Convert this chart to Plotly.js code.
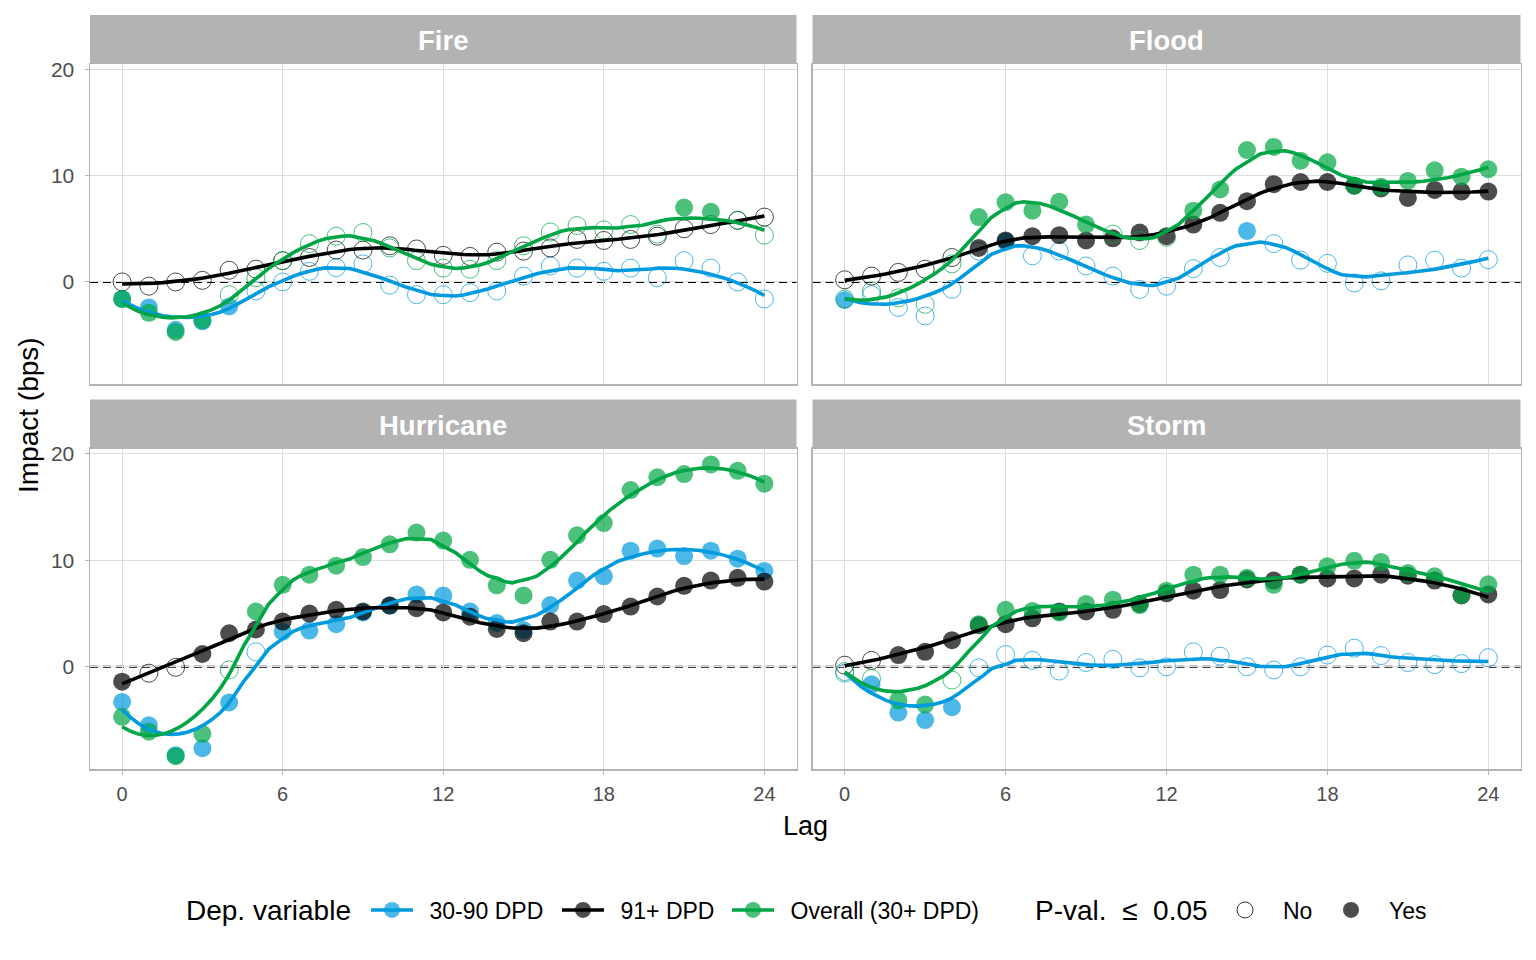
<!DOCTYPE html>
<html>
<head>
<meta charset="utf-8">
<script src="https://cdn.plot.ly/plotly-3.0.1.min.js"></script>
<style>html,body{margin:0;padding:0;background:#fff;}#chart{width:1536px;height:960px;}</style>
</head>
<body>
<div id="chart"></div>
<script>
// ---------------- DATA ----------------
const LAGS = [0,1,2,3,4,5,6,7,8,9,10,11,12,13,14,15,16,17,18,19,20,21,22,23,24];
const X_TICKS = [0, 6, 12, 18, 24];
const Y_TICKS = [0, 10, 20];
const PANEL_NAMES = ['Fire', 'Flood', 'Hurricane', 'Storm'];
const SERIES_NAMES = ['30-90 DPD', '91+ DPD', 'Overall (30+ DPD)'];
const SIG_NAMES = ['No', 'Yes'];

// Fire
const fire_3090 = [-1.6,-2.4,-4.5,-3.7,-2.3,-0.85,0.0,1.0,1.35,1.7,-0.3,-1.2,-1.2,-1.0,-0.85,0.55,1.5,1.3,1.0,1.3,0.4,2.0,1.3,0.0,-1.6];
const fire_3090_sig = [1,1,1,1,1,0,0,0,0,0,0,0,0,0,0,0,0,0,0,0,0,0,0,0,0];
const fire_91 = [0.0,-0.4,0.0,0.15,1.1,1.2,2.0,2.3,3.0,3.0,3.4,3.1,2.5,2.4,2.8,2.9,3.2,4.0,3.9,4.0,4.3,5.0,5.4,5.8,6.1];
const fire_91_sig = [0,0,0,0,0,0,0,0,0,0,0,0,0,0,0,0,0,0,0,0,0,0,0,0,0];
const fire_all = [-1.6,-2.9,-4.7,-3.6,-1.2,0.4,2.0,3.6,4.3,4.65,3.2,2.0,1.3,1.2,2.0,3.4,4.7,5.3,4.9,5.4,4.5,7.0,6.6,5.8,4.4];
const fire_all_sig = [1,1,1,1,0,0,0,0,0,0,0,0,0,0,0,0,0,0,0,0,0,1,1,0,0];

// Flood
const flood_3090 = [-1.7,-1.2,-2.4,-3.2,-0.7,2.9,3.8,2.45,2.9,1.5,0.55,-0.7,-0.4,1.25,2.3,4.8,3.6,2.05,1.75,-0.1,0.1,1.6,2.05,1.3,2.1];
const flood_3090_sig = [1,0,0,0,0,0,1,0,0,0,0,0,0,0,0,1,0,0,0,0,0,0,0,0,0];
const flood_91 = [0.2,0.55,0.9,1.2,2.3,3.2,3.9,4.3,4.4,3.9,4.1,4.65,4.3,5.4,6.5,7.6,9.2,9.4,9.4,9.05,8.8,7.9,8.65,8.5,8.5];
const flood_91_sig = [0,0,0,0,0,1,1,1,1,1,1,1,1,1,1,1,1,1,1,1,1,1,1,1,1];
const flood_all = [-1.6,-0.85,-1.5,-2.1,1.7,6.1,7.5,6.7,7.55,5.4,4.5,3.9,4.2,6.7,8.7,12.4,12.7,11.4,11.25,9.05,8.95,9.5,10.5,9.9,10.6];
const flood_all_sig = [0,0,0,0,0,1,1,1,1,1,0,0,0,1,1,1,1,1,1,1,1,1,1,1,1];

// Hurricane
const hurricane_3090 = [-3.3,-5.5,-8.3,-7.65,-3.35,1.4,3.3,3.4,4.0,5.1,5.75,6.8,6.7,5.2,4.1,3.45,5.8,8.1,8.5,10.9,11.1,10.4,10.9,10.15,9.0];
const hurricane_3090_sig = [1,1,1,1,1,0,1,1,1,1,1,1,1,1,1,1,1,1,1,1,1,1,1,1,1];
const hurricane_91 = [-1.4,-0.6,-0.05,1.2,3.15,3.5,4.25,5.0,5.35,5.2,5.75,5.5,5.1,4.7,3.55,3.15,4.25,4.25,4.95,5.65,6.6,7.6,8.1,8.35,8.0];
const hurricane_91_sig = [1,0,0,1,1,1,1,1,1,1,1,1,1,1,1,1,1,1,1,1,1,1,1,1,1];
const hurricane_all = [-4.7,-6.1,-8.4,-6.3,-0.3,5.2,7.7,8.65,9.5,10.3,11.5,12.6,11.85,10.05,7.65,6.7,10.05,12.35,13.5,16.6,17.8,18.1,19.0,18.4,17.2];
const hurricane_all_sig = [1,1,1,1,0,1,1,1,1,1,1,1,1,1,1,1,1,1,1,1,1,1,1,1,1];

// Storm
const storm_3090 = [-0.6,-1.65,-4.3,-5.0,-3.8,-0.1,1.15,0.6,-0.4,0.4,0.7,-0.1,0.0,1.4,1.0,0.0,-0.3,0.0,1.1,1.75,1.05,0.4,0.2,0.3,0.85];
const storm_3090_sig = [0,1,1,1,1,0,0,0,0,0,0,0,0,0,0,0,0,0,0,0,0,0,0,0,0];
const storm_91 = [0.15,0.6,1.1,1.4,2.5,3.9,4.0,4.55,5.2,5.2,5.35,5.9,6.9,7.15,7.2,8.2,8.1,8.65,8.3,8.3,8.65,8.55,8.1,6.7,6.8];
const storm_91_sig = [0,0,1,1,1,1,1,1,1,1,1,1,1,1,1,1,1,1,1,1,1,1,1,1,1];
const storm_all = [-0.45,-1.1,-3.15,-3.55,-1.25,4.0,5.35,5.25,5.1,5.9,6.3,5.8,7.15,8.65,8.65,8.35,7.7,8.65,9.45,9.95,9.85,8.8,8.5,6.75,7.75];
const storm_all_sig = [0,0,1,1,0,1,1,1,1,1,1,1,1,1,1,1,1,1,1,1,1,1,1,1,1];

// ---------------- BUILD ----------------
const PANEL_DATA = [
  [[fire_3090, fire_3090_sig], [fire_91, fire_91_sig], [fire_all, fire_all_sig]],
  [[flood_3090, flood_3090_sig], [flood_91, flood_91_sig], [flood_all, flood_all_sig]],
  [[hurricane_3090, hurricane_3090_sig], [hurricane_91, hurricane_91_sig], [hurricane_all, hurricane_all_sig]],
  [[storm_3090, storm_3090_sig], [storm_91, storm_91_sig], [storm_all, storm_all_sig]]
];
const LINE_COLORS = ['#009ADE', '#000000', '#00A645'];
const PT_COLORS = ['rgba(0,154,222,0.7)', 'rgba(0,0,0,0.7)', 'rgba(0,166,69,0.7)'];
const SPAN = 0.4;
const FONT = 'Liberation Sans, Arial, sans-serif';

function solve3(A, b) {
  const M = A.map((r, i) => r.concat([b[i]]));
  for (let c = 0; c < 3; c++) {
    let p = c;
    for (let r = c + 1; r < 3; r++) if (Math.abs(M[r][c]) > Math.abs(M[p][c])) p = r;
    [M[c], M[p]] = [M[p], M[c]];
    for (let r = 0; r < 3; r++) {
      if (r === c) continue;
      const f = M[r][c] / M[c][c];
      for (let k = c; k < 4; k++) M[r][k] -= f * M[c][k];
    }
  }
  return [M[0][3] / M[0][0], M[1][3] / M[1][1], M[2][3] / M[2][2]];
}
function loess(xs, ys, span, x0) {
  const n = xs.length;
  const q = Math.floor(n * span + 1e-5);
  const d = xs.map(x => Math.abs(x - x0));
  const s = d.slice().sort((a, b) => a - b);
  const h = s[Math.min(q, n) - 1] * 1.0001;
  let S = [[0,0,0],[0,0,0],[0,0,0]], B = [0,0,0];
  for (let i = 0; i < n; i++) {
    const u = d[i] / h;
    if (u >= 1) continue;
    const w = Math.pow(1 - u * u * u, 3);
    const t = xs[i] - x0;
    const v = [1, t, t * t];
    for (let a = 0; a < 3; a++) {
      B[a] += w * v[a] * ys[i];
      for (let c = 0; c < 3; c++) S[a][c] += w * v[a] * v[c];
    }
  }
  return solve3(S, B)[0];
}

const traces = [];
const axSuffix = ['', '2', '3', '4'];
PANEL_DATA.forEach((series, p) => {
  const xa = 'x' + axSuffix[p], ya = 'y' + axSuffix[p];
  series.forEach(([vals, sig], s) => {
    const fx = [], fy = [], ox = [], oy = [];
    LAGS.forEach((l, i) => { if (sig[i]) { fx.push(l); fy.push(vals[i]); } else { ox.push(l); oy.push(vals[i]); } });
    traces.push({x: ox, y: oy, xaxis: xa, yaxis: ya, type: 'scatter', mode: 'markers', showlegend: false, hoverinfo: 'skip',
      marker: {symbol: 'circle-open', size: 18, color: PT_COLORS[s], line: {width: 1, color: PT_COLORS[s]}}});
    traces.push({x: fx, y: fy, xaxis: xa, yaxis: ya, type: 'scatter', mode: 'markers', showlegend: false, hoverinfo: 'skip',
      marker: {symbol: 'circle', size: 18, color: PT_COLORS[s], line: {width: 0}}});
  });
  series.forEach(([vals], s) => {
    const gx = [], gy = [];
    const N = 80, lo = LAGS[0], hi = LAGS[LAGS.length - 1];
    for (let k = 0; k < N; k++) { const x = lo + (hi - lo) * k / (N - 1); gx.push(x); gy.push(loess(LAGS, vals, SPAN, x)); }
    traces.push({x: gx, y: gy, xaxis: xa, yaxis: ya, type: 'scatter', mode: 'lines', showlegend: false, hoverinfo: 'skip',
      line: {color: LINE_COLORS[s], width: 3.6}});
  });
});

const W = 1536, H = 960;
// legend entries (one legend box per entry, positioned like the reference)
const LEG_IDS = ['legend', 'legend3', 'legend4'];
const LEG_X = [366, 557, 727];
SERIES_NAMES.forEach((nm, s) => {
  traces.push({x: [null], y: [null], type: 'scatter', mode: 'lines+markers', name: '\u2002' + nm, legend: LEG_IDS[s],
    line: {color: LINE_COLORS[s], width: 3.6}, marker: {size: 16, color: PT_COLORS[s], symbol: 'circle'}});
});
const SIG_IDS = ['legend2', 'legend5'];
const SIG_X = [1207, 1313];
SIG_NAMES.forEach((nm, k) => {
  traces.push({x: [null], y: [null], type: 'scatter', mode: 'markers', name: nm, legend: SIG_IDS[k],
    marker: k === 0 ? {size: 16, symbol: 'circle-open', color: '#333', line: {width: 1, color: '#333'}}
                    : {size: 16, symbol: 'circle', color: 'rgba(0,0,0,0.7)'}});
});

const colDom = [[90 / W, 796.5 / W], [812.5 / W, 1520.5 / W]];
const rowDom = [[1 - 384 / H, 1 - 64 / H], [1 - 769 / H, 1 - 448.5 / H]];
const stripDom = [[1 - 64 / H, 1 - 15 / H], [1 - 448.5 / H, 1 - 399.5 / H]];
const LEG_Y = 1 - 910 / H;

const layout = {
  width: W, height: H, margin: {l: 0, r: 0, t: 0, b: 0},
  paper_bgcolor: '#fff', plot_bgcolor: '#fff',
  font: {family: FONT, size: 20, color: '#4D4D4D'},
  shapes: [], annotations: []
};
LEG_IDS.forEach((id, s) => {
  layout[id] = {orientation: 'h', x: LEG_X[s] / W, xanchor: 'left', y: LEG_Y, yanchor: 'middle',
    font: {size: 23, color: '#000'}, itemwidth: 42, bgcolor: 'rgba(0,0,0,0)', borderwidth: 0};
});
SIG_IDS.forEach((id, k) => {
  layout[id] = {orientation: 'h', x: SIG_X[k] / W, xanchor: 'left', y: LEG_Y, yanchor: 'middle',
    font: {size: 23, color: '#000'}, itemwidth: 66, bgcolor: 'rgba(0,0,0,0)', borderwidth: 0};
});
for (let p = 0; p < 4; p++) {
  const col = p % 2, row = Math.floor(p / 2);
  const sfx = axSuffix[p];
  layout['xaxis' + sfx] = {domain: colDom[col], anchor: 'y' + sfx, range: [-1.2, 25.2], tickvals: X_TICKS,
    ticktext: X_TICKS.map(String), showticklabels: row === 1, ticks: row === 1 ? 'outside' : '', ticklen: 4,
    tickcolor: '#B3B3B3', tickfont: {size: 20, color: '#4D4D4D'}, ticklabelstandoff: 2,
    showgrid: true, gridcolor: '#DEDEDE', gridwidth: 1, zeroline: false,
    showline: true, mirror: true, linecolor: '#B3B3B3', linewidth: 1.5};
  layout['yaxis' + sfx] = {domain: rowDom[row], anchor: 'x' + sfx, range: [-9.6, 20.5], tickvals: Y_TICKS,
    ticktext: Y_TICKS.map(String), showticklabels: col === 0, ticks: col === 0 ? 'outside' : '', ticklen: 4,
    tickcolor: '#B3B3B3', tickfont: {size: 21, color: '#4D4D4D'}, ticklabelstandoff: 6,
    showgrid: true, gridcolor: '#DEDEDE', gridwidth: 1, zeroline: false,
    showline: true, mirror: true, linecolor: '#B3B3B3', linewidth: 1.5};
  layout.shapes.push({type: 'line', xref: 'x' + sfx + ' domain', yref: 'y' + sfx, x0: 0, x1: 1, y0: 0, y1: 0,
    line: {color: '#000', width: 2, dash: '8px,5px'}, layer: 'below'});
  layout.shapes.push({type: 'rect', xref: 'paper', yref: 'paper', x0: colDom[col][0], x1: colDom[col][1],
    y0: stripDom[row][0], y1: stripDom[row][1], fillcolor: '#B3B3B3', line: {width: 0}});
  layout.annotations.push({xref: 'paper', yref: 'paper', x: (colDom[col][0] + colDom[col][1]) / 2,
    y: (stripDom[row][0] + stripDom[row][1]) / 2, yshift: -1, text: '<b>' + PANEL_NAMES[p] + '</b>', showarrow: false,
    font: {size: 27.5, color: '#fff', family: FONT}, xanchor: 'center', yanchor: 'middle'});
}
layout.annotations.push({xref: 'paper', yref: 'paper', x: 805 / W, y: 1 - 826 / H, text: 'Lag', showarrow: false,
  font: {size: 27, color: '#000'}, xanchor: 'center', yanchor: 'middle'});
layout.annotations.push({xref: 'paper', yref: 'paper', x: 28 / W, y: 1 - 415 / H, text: 'Impact (bps)', showarrow: false,
  textangle: -90, font: {size: 28, color: '#000'}, xanchor: 'center', yanchor: 'middle'});
layout.annotations.push({xref: 'paper', yref: 'paper', x: 184 / W, y: LEG_Y, text: 'Dep. variable', showarrow: false,
  font: {size: 28, color: '#000'}, xanchor: 'left', yanchor: 'middle'});
layout.annotations.push({xref: 'paper', yref: 'paper', x: 1033 / W, y: LEG_Y, text: 'P-val.\u00A0 \u2264 \u00A00.05', showarrow: false,
  font: {size: 28, color: '#000'}, xanchor: 'left', yanchor: 'middle'});

Plotly.newPlot('chart', traces, layout, {staticPlot: true, displayModeBar: false});
</script>
</body>
</html>
